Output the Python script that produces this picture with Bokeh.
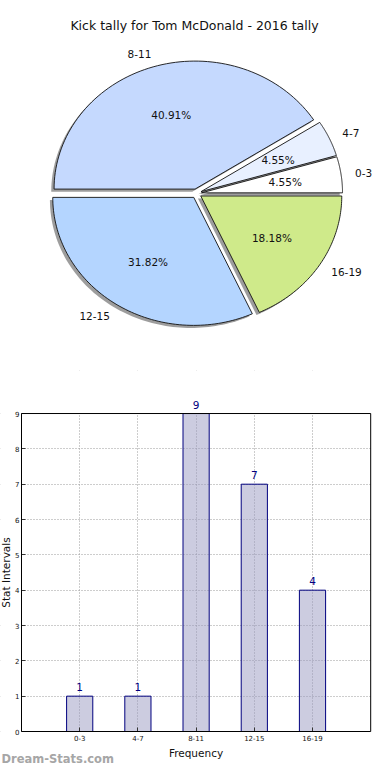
import numpy as np
from bokeh.plotting import figure
from bokeh.models import (Range1d, Label, ColumnDataSource, FixedTicker, BoxAnnotation)
from bokeh.layouts import column
from bokeh.embed import file_html
from bokeh.resources import INLINE

# ---- data ----
categories = ["0-3", "4-7", "8-11", "12-15", "16-19"]
counts = [1, 1, 9, 7, 4]
pie_colors = ["#ffffff", "#e8f0ff", "#c5d9fe", "#b4d5ff", "#cfea8a"]
chart_title = "Kick tally for Tom McDonald - 2016 tally"
x_label = "Frequency"
y_label = "Stat Intervals"
y_ticks = [0, 1, 2, 3, 4, 5, 6, 7, 8, 9]
x_lim = (-1, 5)
y_lim = (0, 9)
watermark = "Dream-Stats.com"

FONT = "DejaVu Sans"
W = 374

# ---- pie figure ----
H_TOP = 370
SX, SY = 141.0, 128.0     # pixels per unit radius (non-equal aspect, like the original)
CX, CY = 196.0, 193.0     # pie centre in figure pixels (from left / top)
EXPLODE = 0.036
SHADOW = 0.02

pie = figure(width=W, height=H_TOP, output_backend="svg", toolbar_location=None,
             x_range=Range1d(-CX / SX, (W - CX) / SX),
             y_range=Range1d(-(H_TOP - CY) / SY, CY / SY), min_border=0)
pie.axis.visible = False
pie.grid.visible = False
pie.outline_line_color = None

total = float(sum(counts))
fracs = np.array(counts) / total
edges = np.concatenate([[0.0], np.cumsum(fracs)]) * 2 * np.pi

xs, ys, sxs, sys_ = [], [], [], []
lab_x, lab_y, lab_align, pct_x, pct_y, pct_txt = [], [], [], [], [], []
for i in range(len(counts)):
    a0, a1 = edges[i], edges[i + 1]
    mid = 0.5 * (a0 + a1)
    ox, oy = EXPLODE * np.cos(mid), EXPLODE * np.sin(mid)
    t = np.linspace(a0, a1, 80)
    px = np.concatenate([[ox], ox + np.cos(t), [ox]])
    py = np.concatenate([[oy], oy + np.sin(t), [oy]])
    xs.append(list(px)); ys.append(list(py))
    sxs.append(list(px - SHADOW)); sys_.append(list(py - SHADOW))
    lab_x.append(ox + 1.1 * np.cos(mid)); lab_y.append(oy + 1.1 * np.sin(mid))
    lab_align.append("left" if np.cos(mid) > 0 else "right")
    pct_x.append(ox + 0.6 * np.cos(mid)); pct_y.append(oy + 0.6 * np.sin(mid))
    pct_txt.append(f"{100 * counts[i] / total:.2f}%")

pie.patches(xs=sxs, ys=sys_, fill_color="#4d4d4d", fill_alpha=0.55, line_color=None)
pie.patches(xs=xs, ys=ys, fill_color=pie_colors, line_color="#111111", line_width=0.9)

lab_src = ColumnDataSource(dict(x=lab_x, y=lab_y, text=categories, align=lab_align))
pie.text(x="x", y="y", text="text", source=lab_src, text_align="align",
         text_baseline="middle", text_font_size="10.5px", text_font={"value": FONT},
         text_color="#111111")
pct_src = ColumnDataSource(dict(x=pct_x, y=pct_y, text=pct_txt))
pie.text(x="x", y="y", text="text", source=pct_src, text_align="center",
         text_baseline="middle", text_font_size="10.5px", text_font={"value": FONT},
         text_color="#111111")

pie.text(x=[(194 - CX) / SX], y=[(CY - 25) / SY], text=[chart_title], text_align="center",
         text_baseline="middle", text_font_size="12.5px", text_font={"value": FONT},
         text_color="#111111")

# ---- bar figure ----
H_BOT = 764 - H_TOP
PX_X = 58.2                # px per x unit
PX_Y = 35.33               # px per y unit
FX0 = 21                   # page x of x=-1
FY0 = 731 - H_TOP          # figure y (from top) of y=0
x_start = x_lim[0] - FX0 / PX_X
x_end = x_start + W / PX_X
y_start = y_lim[0] - (H_BOT - FY0) / PX_Y
y_end = y_start + H_BOT / PX_Y

xpos = list(range(len(categories)))
bar = figure(width=W, height=H_BOT, output_backend="svg", toolbar_location=None,
             x_range=Range1d(x_start, x_end), y_range=Range1d(y_start, y_end), min_border=0)
bar.outline_line_color = None

bar.xaxis.ticker = FixedTicker(ticks=xpos)
bar.xaxis.major_label_overrides = {i: c for i, c in zip(xpos, categories)}
bar.yaxis.ticker = FixedTicker(ticks=y_ticks)
bar.xaxis.fixed_location = y_lim[0]
bar.yaxis.fixed_location = x_lim[0]
bar.xaxis.bounds = x_lim
bar.yaxis.bounds = y_lim
for ax in (bar.xaxis, bar.yaxis):
    ax.major_label_text_font_size = "7px"
    ax.major_label_text_font = FONT
    ax.major_label_text_color = "#111111"
    ax.major_tick_in = 4
    ax.major_tick_out = 0
    ax.minor_tick_line_color = None
    ax.axis_line_color = None
    ax.major_tick_line_color = "#333333"
    ax.major_label_standoff = 3
    ax.axis_label_text_font_size = "10.5px"
    ax.axis_label_text_font = FONT
    ax.axis_label_text_font_style = "normal"
    ax.axis_label_text_color = "#111111"
bar.xaxis.axis_label = x_label
bar.yaxis.axis_label = y_label
bar.xaxis.axis_label_standoff = 3
bar.yaxis.major_label_standoff = 2
bar.yaxis.axis_label_standoff = 0

bar.grid.grid_line_color = "#9a9a9a"
bar.grid.grid_line_dash = "1 2"
bar.grid.grid_line_width = 1

# white margins hide the grid outside the plotting box
bar.quad(left=[x_start, x_lim[1], x_start, x_start],
         right=[x_lim[0], x_end, x_end, x_end],
         bottom=[y_start, y_start, y_start, y_lim[1]],
         top=[y_end, y_end, y_lim[0], y_end],
         fill_color="white", line_color=None)
bar.vbar(x=xpos, top=counts, width=0.45, fill_color="#9999c2", fill_alpha=0.5,
         line_color="#00007f", line_width=1)
bar.add_layout(BoxAnnotation(left=x_lim[0], right=x_lim[1], bottom=y_lim[0], top=y_lim[1],
                             fill_alpha=0, line_color="#000000", line_width=1, line_alpha=1))

val_src = ColumnDataSource(dict(x=xpos, y=counts, text=[str(c) for c in counts]))
bar.text(x="x", y="y", text="text", source=val_src, y_offset=-5,
         text_align="center", text_baseline="bottom",
         text_font_size="10.5px", text_font={"value": FONT}, text_color="#00007f")

bar.add_layout(Label(x=x_start + 1 / PX_X, y=y_lim[0] - (758 - 731) / PX_Y, text=watermark,
                     text_align="left", text_baseline="middle", text_font_size="11.5px",
                     text_font=FONT, text_font_style="bold", text_color="#a6a6a6"))

layout = column(pie, bar, spacing=0)
open("out.html", "w").write(file_html(layout, INLINE))
